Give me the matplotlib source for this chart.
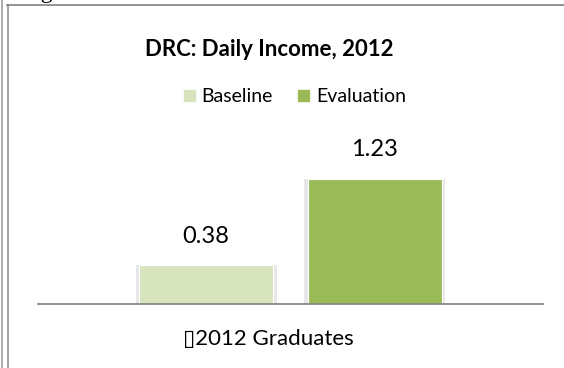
import matplotlib
matplotlib.use('Agg')
import matplotlib.pyplot as plt
import matplotlib.transforms as mtransforms
from matplotlib.lines import Line2D
from matplotlib.patches import Patch

#### Data
categories = ['\u25af2012 Graduates']
series_names = ['Baseline', 'Evaluation']
baseline = [0.38]
evaluation = [1.23]

#### Style
plt.rcParams['font.family'] = ['Lato', 'DejaVu Sans']
col_base = '#d7e4bd'
col_eval = '#9bbb59'

W, H = 564, 368
fig = plt.figure(figsize=(W/100, H/100), dpi=100)

# frame lines of the page around the chart
fig.add_artist(Line2D([1.5/W, 1.5/W], [0, 1], color='#a0a0a0', lw=1.2))
fig.add_artist(Line2D([7.5/W, 7.5/W], [0, 1-5/H], color='#909090', lw=1.2))
fig.add_artist(Line2D([7/W, 1], [1-5/H, 1-5/H], color='#808080', lw=1.2))
# caption above, mostly cut off
fig.text(21/W, 1+2/H, 'Figure', fontsize=17, family='Liberation Serif', va='baseline', ha='left')

ax = fig.add_axes([38/W, 1-304/H, (543-38)/W, (304-50)/H])
ax.set_xlim(-0.5, 0.5)
ax.set_ylim(0, 254/102)

x = list(range(len(categories)))
bw = 0.265
off = 0.167
for vals, sign, col in [(baseline, -1, col_base), (evaluation, 1, col_eval)]:
	xs = [i + sign*off for i in x]
	# soft shadow
	ax.bar(xs, vals, width=bw+0.014, color='#d8d8d8', alpha=0.6, linewidth=0, zorder=1)
	ax.bar(xs, vals, width=bw, color=col, edgecolor='white', linewidth=0.8, zorder=2)
	for xx, v in zip(xs, vals):
		ax.annotate('%.2f' % v, (xx, v), xytext=(0, 13), textcoords='offset points',
			ha='center', va='bottom', fontsize=17)

for s in ['top', 'left', 'right']:
	ax.spines[s].set_visible(False)
ax.spines['bottom'].set_color('#888888')
ax.spines['bottom'].set_linewidth(1.3)
ax.set_yticks([])
ax.set_xticks(x)
ax.set_xticklabels(categories, fontsize=16)
ax.tick_params(axis='x', length=0, pad=18)
shift = mtransforms.ScaledTranslation(-22/100, 0, fig.dpi_scale_trans)
for lb in ax.get_xticklabels():
	lb.set_transform(lb.get_transform() + shift)

# title and legend
fig.text(269/W, 1-49/H, 'DRC: Daily Income, 2012', ha='center', va='center',
	fontsize=16, fontweight='bold')
handles = [Patch(color=col_base), Patch(color=col_eval)]
fig.legend(handles, series_names, loc='center', bbox_to_anchor=(295/W, 1-97/H),
	ncol=2, frameon=False, fontsize=14, handlelength=0.55, handleheight=0.55,
	handletextpad=0.35, columnspacing=1.3)

plt.savefig('out.png', dpi=100)
